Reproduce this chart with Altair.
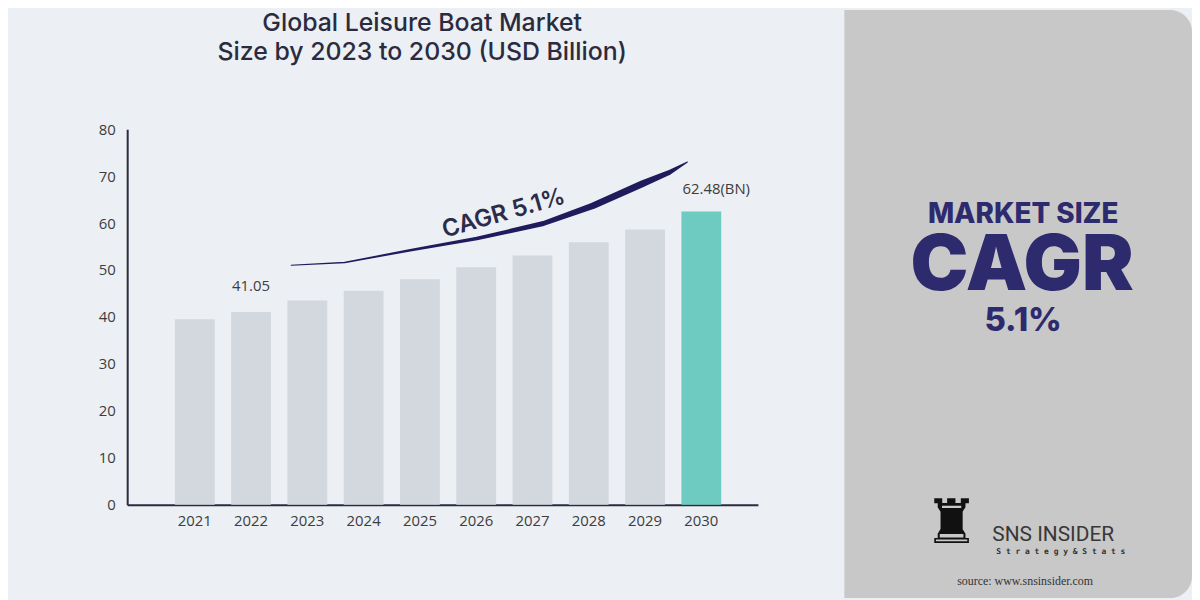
import altair as alt
import pandas as pd

years = ["2021", "2022", "2023", "2024", "2025", "2026", "2027", "2028", "2029", "2030"]
values = [39.5, 41.05, 43.5, 45.6, 48.0, 50.6, 53.1, 55.9, 58.6, 62.48]
labels = ["", "41.05", "", "", "", "", "", "", "", "62.48(BN)"]
highlight = [False] * 9 + [True]

# decorative CAGR swoosh (x in plot px, y in value units, w = stroke width)
swoosh_x = [165, 219, 285, 352, 419, 469, 519, 545, 564]
swoosh_y = [51.0, 51.6, 54.2, 56.7, 59.9, 63.7, 68.4, 70.7, 73.0]
swoosh_w = [1, 1.5, 2.5, 3.5, 5, 6.5, 7, 5, 1]

df = pd.DataFrame({"year": years, "value": values, "label": labels, "hl": highlight})
sw = pd.DataFrame({"x": swoosh_x, "y": swoosh_y, "w": swoosh_w, "o": list(range(len(swoosh_x)))})
one = pd.DataFrame({"a": [0]})

NAVY = "#2e2a6e"
DARK = "#2b2b40"

xscale = alt.Scale(paddingInner=0.293, paddingOuter=0.75, align=0.565)
yscale = alt.Scale(domain=[0, 80], nice=False)

panel = alt.Chart(one).mark_rect(color="#c8c8c8", cornerRadiusTopRight=22, cornerRadiusBottomRight=22).encode(
    x=alt.value(722), x2=alt.value(1072), y=alt.value(-120), y2=alt.value(472)
)

bars = alt.Chart(df).mark_bar().encode(
    x=alt.X("year:N", scale=xscale, sort=years,
            axis=alt.Axis(title=None, labelAngle=0, ticks=False, labelPadding=9,
                          labelFontSize=15, labelColor="#3d3d3d", labelFont="Open Sans",
                          domainColor=DARK, domainWidth=2)),
    y=alt.Y("value:Q", scale=yscale,
            axis=alt.Axis(title=None, ticks=False, grid=False, values=[0, 10, 20, 30, 40, 50, 60, 70, 80],
                          labelPadding=12, labelFontSize=15, labelColor="#3d3d3d", labelFont="Open Sans",
                          domainColor=DARK, domainWidth=2)),
    color=alt.Color("hl:N", scale=alt.Scale(domain=[False, True], range=["#d3d7de", "#6ecbc2"]), legend=None),
)

lab1 = alt.Chart(df).transform_filter(alt.datum.year == "2022").mark_text(
    baseline="middle", dy=-26, fontSize=15, color="#3d3d3d", font="Open Sans"
).encode(x=alt.X("year:N", sort=years), y="value:Q", text="label:N")

lab2 = alt.Chart(df).transform_filter(alt.datum.year == "2030").mark_text(
    baseline="middle", dy=-23, dx=15, fontSize=15, color="#3d3d3d", font="Open Sans"
).encode(x=alt.X("year:N", sort=years), y="value:Q", text="label:N")

main = alt.layer(bars, lab1, lab2)

swoosh = alt.Chart(sw).mark_trail(color="#1f1b5c").encode(
    x=alt.X("x:Q", scale=alt.Scale(domain=[0, 635], nice=False), axis=None),
    y=alt.Y("y:Q", scale=yscale),
    size=alt.Size("w:Q", scale=None),
    order="o:Q",
)

def txt(text, x, y, size, weight="normal", color=DARK, font="Inter", angle=0, align="center"):
    kw = dict(text=text, fontSize=size, fontWeight=weight, color=color, font=font,
              align=align, baseline="middle")
    if angle:
        kw["angle"] = angle
    return alt.Chart(one).mark_text(**kw).encode(x=alt.value(x), y=alt.value(y))

texts = [
    txt("Global Leisure Boat Market", 297, -107, 25, 500),
    txt("Size by 2023 to 2030 (USD Billion)", 297, -78, 25, 500),
    txt("CAGR 5.1%", 379, 85, 24, 600, color="#2b2b4a", angle=344),
    txt("MARKET SIZE", 902, 86, 28, 800, color=NAVY),
    txt("CAGR", 901, 139, 78, 900, color=NAVY),
    txt("5.1%", 902, 193, 33, 800, color=NAVY),
    txt("\u265c", 830, 398, 62, "normal", color="#111111", font="DejaVu Sans"),
    txt("SNS INSIDER", 871, 409, 21, "normal", color="#383838", font="Roboto", align="left"),
    txt("S t r a t e g y  &  S t a t s", 875, 426, 8, "bold", color="#333333", font="DejaVu Sans Mono", align="left"),
    txt("source: www.snsinsider.com", 904, 455, 12, "normal", color="#333333", font="Liberation Serif"),
]

chart = alt.layer(panel, main, swoosh, *texts).resolve_scale(x="independent").properties(
    width=635, height=378,
    autosize=alt.AutoSizeParams(type="none"),
    padding={"left": 120, "top": 120, "right": 437, "bottom": 94},
    background="#eceff3",
).configure_view(stroke=None)

chart.save("out.html", embed_options={"renderer": "svg", "actions": False})
